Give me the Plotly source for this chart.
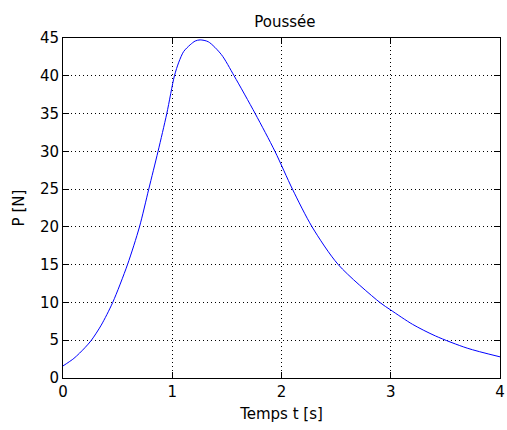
import plotly.graph_objects as go

# values
temps = [0, 0.1, 0.2, 0.26, 0.35, 0.455, 0.59, 0.70, 0.785, 0.87, 0.95, 1.02,
         1.06, 1.104, 1.164, 1.21, 1.255, 1.33, 1.45, 1.566, 1.759, 1.94, 2.10,
         2.28, 2.52, 2.90, 3.0, 3.2, 3.41, 3.7, 4.0]
poussee = [1.6, 2.6, 4.0, 5.0, 7.0, 10, 15, 20, 25, 30, 35, 40,
           41.8, 43.2, 44.1, 44.6, 44.75, 44.5, 42.8, 40, 35, 30, 25,
           20, 15, 10, 9.0, 7.1, 5.56, 3.95, 2.8]

x_ticks = [0, 1, 2, 3, 4]
y_ticks = [0, 5, 10, 15, 20, 25, 30, 35, 40, 45]

font = dict(family="DejaVu Sans, sans-serif", size=15, color="black")

fig = go.Figure()
fig.add_trace(go.Scatter(
    x=temps, y=poussee,
    mode='lines',
    line=dict(color='rgb(0, 0, 255)', width=1, shape='spline', smoothing=0.8),
    showlegend=False,
    hoverinfo='skip'))

axis_common = dict(
    showline=True, linecolor='black', linewidth=1, mirror='ticks',
    ticks='inside', ticklen=6, tickcolor='black', tickwidth=1,
    showgrid=True, gridcolor='black', gridwidth=1, griddash='1px,3px',
    zeroline=False, tickfont=font, automargin=False,
    ticklabeloverflow='allow')

fig.update_layout(
    width=507, height=430,
    margin=dict(l=63, r=7, t=38, b=52),
    paper_bgcolor='white', plot_bgcolor='white',
    font=font,
    title=dict(text='Poussée', x=0.562, xanchor='center', y=0.949, yanchor='middle',
               automargin=False, font=font),
    xaxis=dict(range=[0, 4], tickvals=x_ticks,
               title=dict(text='Temps t [s]', standoff=8, font=font), **axis_common),
    yaxis=dict(range=[0, 45], tickvals=y_ticks,
               title=dict(text='P [N]', standoff=11, font=font), **axis_common),
)

# page body has a default 8px margin, drop it so the figure sits at 0,0
fig.write_html("out.html", config={'displayModeBar': False},
               post_script="document.body.style.margin='0';")
